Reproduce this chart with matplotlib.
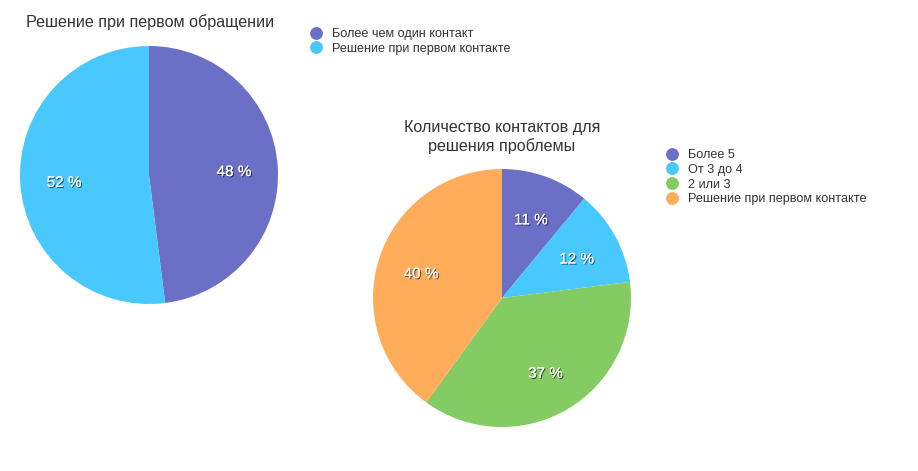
import matplotlib
matplotlib.use("Agg")
import matplotlib.pyplot as plt
from matplotlib.lines import Line2D
import matplotlib.patheffects as pe
import matplotlib.transforms as mtransforms

plt.rcParams['font.family'] = ['Liberation Sans', 'DejaVu Sans']

title1 = "Решение при первом обращении"
labels1 = ["Более чем один контакт", "Решение при первом контакте"]
values1 = [48, 52]
colors1 = ["#6B70C6", "#48C8FD"]

title2 = "Количество контактов для\nрешения проблемы"
labels2 = ["Более 5", "От 3 до 4", "2 или 3", "Решение при первом контакте"]
values2 = [11, 12, 37, 40]
colors2 = ["#6B70C6", "#48C8FD", "#85CB63", "#FFAD5B"]

W, H = 918, 471
fig = plt.figure(figsize=(W / 100, H / 100), dpi=100)

def px_axes(cx, cy, r):
    return fig.add_axes([(cx - r) / W, 1 - (cy + r) / H, 2 * r / W, 2 * r / H])

shadow = [pe.withSimplePatchShadow(offset=(0.8, -0.8), shadow_rgbFace='black', alpha=0.6), pe.Normal()]

def draw_pie(ax, values, colors):
    wedges, texts, autotexts = ax.pie(values, colors=colors, startangle=90, counterclock=False,
                                      autopct=lambda p: f"{p:.0f} %", pctdistance=0.66,
                                      wedgeprops=dict(linewidth=0))
    off = mtransforms.ScaledTranslation(0, -2.5 / 100, fig.dpi_scale_trans)
    for t in autotexts:
        t.set_color('white')
        t.set_fontsize(11)
        t.set_path_effects(shadow)
        t.set_transform(t.get_transform() + off)
    ax.set_xlim(-1, 1)
    ax.set_ylim(-1, 1)
    ax.set_aspect('equal')
    ax.axis('off')

ax1 = px_axes(149, 175, 129)
draw_pie(ax1, values1, colors1)
ax2 = px_axes(502, 298, 129)
draw_pie(ax2, values2, colors2)

fig.text(150 / W, 1 - 22 / H, title1, ha='center', va='center', fontsize=11.6, color='#333333')
fig.text(502 / W, 1 - 137 / H, title2, ha='center', va='center', fontsize=11.6, color='#333333',
         linespacing=1.3)

def legend(labels, colors, x, y):
    handles = [Line2D([], [], marker='o', linestyle='none', markersize=8.2,
                      markerfacecolor=c, markeredgecolor=c) for c in colors]
    fig.legend(handles, labels, loc='upper left', bbox_to_anchor=(x / W, 1 - y / H),
               frameon=False, fontsize=9.1, handletextpad=0.75, labelspacing=0.22,
               borderpad=0, borderaxespad=0, handlelength=1.0, labelcolor='#333333')

legend(labels1, colors1, 310, 28)
legend(labels2, colors2, 666, 149)

fig.savefig("out.png", dpi=100)
